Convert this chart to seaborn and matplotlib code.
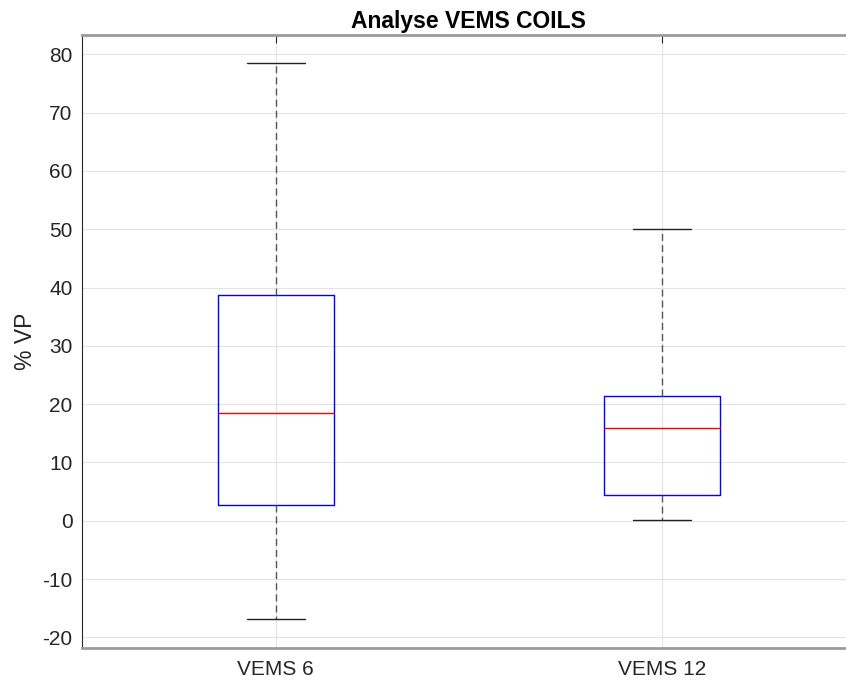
import pandas as pd
import seaborn as sns
import matplotlib
matplotlib.use("Agg")
import matplotlib.pyplot as plt

# box statistics: min, q1, median, q3, max
groups = ["VEMS 6", "VEMS 12"]
vems6 = [-16.9, 2.7, 18.5, 38.8, 78.5]
vems12 = [0.1, 4.35, 15.85, 21.4, 50.1]
yticks = list(range(-20, 81, 10))

df = pd.DataFrame({
    "group": [groups[0]] * len(vems6) + [groups[1]] * len(vems12),
    "value": vems6 + vems12,
})

sns.set_style("white")
plt.rcParams['font.family'] = ['Liberation Sans', 'DejaVu Sans']
plt.rcParams['text.color'] = '#262626'
plt.rcParams['axes.unicode_minus'] = False

fig = plt.figure(figsize=(8.46, 6.84), dpi=100)
ax = fig.add_axes([82.3 / 846, 36.3 / 684, 773.0 / 846, 612.4 / 684])

sns.boxplot(data=df, x="group", y="value", order=groups, whis=(0, 100),
            width=0.3, fill=False, showfliers=False, ax=ax,
            boxprops=dict(color="blue", linewidth=1.0),
            medianprops=dict(color="red", linewidth=1.0),
            whiskerprops=dict(color="#555555", linewidth=1.0, linestyle=(0, (5, 3))),
            capprops=dict(color="#222222", linewidth=1.0))

ax.set_xlim(-0.5, 1.5)
ax.set_ylim(-21.78, 83.26)
ax.set_yticks(yticks)
ax.grid(True, color="#e3e3e3", linewidth=0.8)
ax.set_axisbelow(True)

ax.tick_params(axis="both", direction="in", length=5.5, width=0.8,
               colors="#262626", labelsize=15)
ax.tick_params(axis="x", top=True, pad=9)
ax.tick_params(axis="y", right=True, pad=7)

ax.spines["left"].set_color("#262626")
ax.spines["left"].set_linewidth(0.8)
for s in ["top", "bottom"]:
    ax.spines[s].set_color("#9a9a9a")
    ax.spines[s].set_linewidth(2.0)
ax.spines["right"].set_color("#262626")

ax.set_xlabel("")
ax.set_ylabel("% VP", fontsize=16.5, color="#262626")
ax.yaxis.set_label_coords(-0.059, 0.5)
ax.set_title("Analyse VEMS COILS", fontsize=16.5, fontweight="bold", pad=5,
             color="black")

fig.savefig("out.png", dpi=100)
